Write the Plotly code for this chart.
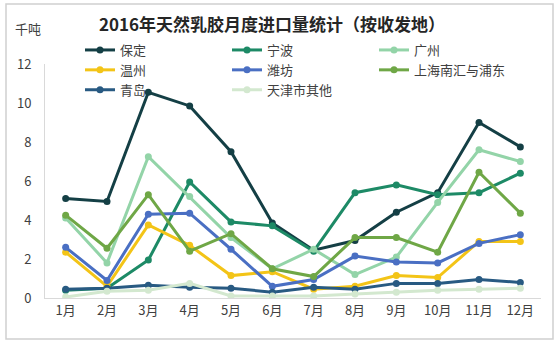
import plotly.graph_objects as go

months = ["1月", "2月", "3月", "4月", "5月", "6月", "7月", "8月", "9月", "10月", "11月", "12月"]

baoding = [5.1, 4.95, 10.55, 9.85, 7.5, 3.85, 2.45, 2.95, 4.4, 5.4, 9.0, 7.75]
ningbo = [0.4, 0.5, 1.95, 5.95, 3.9, 3.7, 2.4, 5.4, 5.8, 5.3, 5.4, 6.4]
guangzhou = [4.1, 1.8, 7.25, 5.2, 3.1, 1.5, 2.5, 1.2, 2.1, 4.9, 7.6, 7.0]
wenzhou = [2.35, 0.6, 3.75, 2.7, 1.15, 1.35, 0.45, 0.6, 1.15, 1.05, 2.9, 2.9]
weifang = [2.6, 0.9, 4.3, 4.35, 2.5, 0.6, 0.95, 2.15, 1.85, 1.8, 2.8, 3.25]
shanghai = [4.25, 2.55, 5.3, 2.4, 3.3, 1.5, 1.1, 3.1, 3.1, 2.35, 6.45, 4.35]
qingdao = [0.45, 0.5, 0.65, 0.55, 0.5, 0.3, 0.55, 0.45, 0.75, 0.75, 0.95, 0.8]
tianjin = [0.05, 0.35, 0.4, 0.75, 0.1, 0.1, 0.1, 0.2, 0.3, 0.4, 0.45, 0.5]

series_names = ["保定", "宁波", "广州", "温州", "潍坊", "上海南汇与浦东", "青岛", "天津市其他"]
series_values = [baoding, ningbo, guangzhou, wenzhou, weifang, shanghai, qingdao, tianjin]
series_colors = ["#143f45", "#1d8a66", "#93d4a8", "#f3c417", "#4a6fc3", "#6fa746", "#285a82", "#d3e8cf"]

FONT = "Noto Sans CJK SC"

fig = go.Figure()
for name, vals, col in zip(series_names, series_values, series_colors):
    fig.add_trace(go.Scatter(
        x=months, y=vals, name=name, mode="lines+markers",
        line=dict(color=col, width=3),
        marker=dict(color=col, size=7),
    ))

L, R, T, B = 45, 19, 64, 48
W, H = 560, 346
pw = W - L - R
ph = H - T - B

def px_x(x):
    return (x - L) / pw

def px_y(y):
    return (H - B - y) / ph

fig.update_layout(
    width=W, height=H,
    margin=dict(l=L, r=R, t=T, b=B),
    paper_bgcolor="white", plot_bgcolor="white",
    font=dict(family=FONT, color="#404040", size=13),
    title=dict(
        text="<b>2016年天然乳胶月度进口量统计（按收发地）</b>",
        x=px_x(272), xref="paper", xanchor="center",
        y=1 - 25 / H, yref="container", yanchor="middle",
        font=dict(family=FONT, size=17, color="#262626"),
    ),
    showlegend=True,
    legend=dict(
        orientation="h",
        x=px_x(80), xanchor="left",
        y=px_y(35), yanchor="top",
        entrywidth=102, entrywidthmode="pixels",
        font=dict(family=FONT, size=13, color="#404040"),
        bgcolor="rgba(0,0,0,0)",
        tracegroupgap=0,
        itemwidth=30,
    ),
    xaxis=dict(
        type="category", range=[-0.5, 11.5],
        showgrid=False, showline=True, linecolor="#d9d9d9", linewidth=1,
        ticks="", tickfont=dict(family=FONT, size=13, color="#404040"),
        zeroline=False,
    ),
    yaxis=dict(
        range=[0, 12], dtick=2,
        showgrid=False, showline=True, linecolor="#d9d9d9", linewidth=1,
        ticks="", tickfont=dict(family=FONT, size=13, color="#404040"),
        zeroline=False, ticklabelstandoff=10,
    ),
    annotations=[dict(
        text="千吨", x=px_x(28), y=px_y(28), xref="paper", yref="paper",
        showarrow=False, xanchor="center", yanchor="middle",
        font=dict(family=FONT, size=13, color="#404040"),
    )],
    shapes=[dict(
        type="rect", xref="paper", yref="paper",
        x0=px_x(6), x1=px_x(553), y0=px_y(339), y1=px_y(4),
        line=dict(color="#d0d0d0", width=1.5), fillcolor="rgba(0,0,0,0)",
        layer="below",
    )],
)

fig.write_html("out.html")
